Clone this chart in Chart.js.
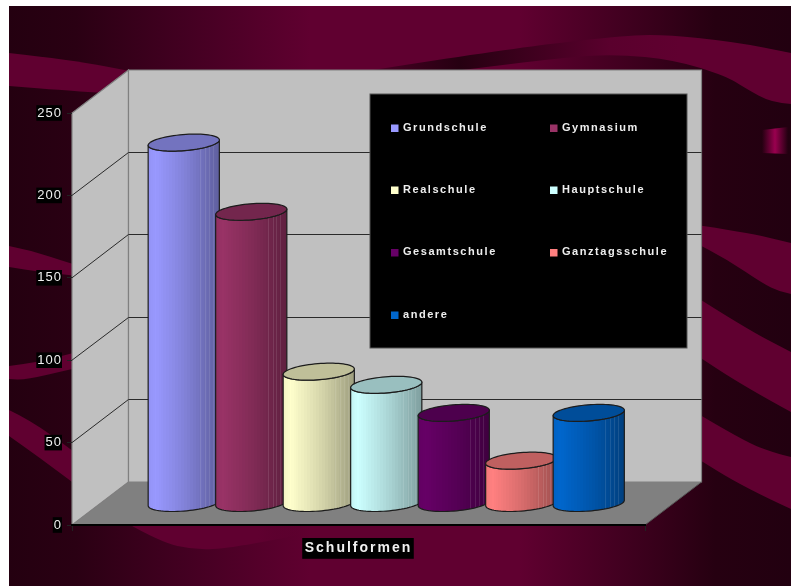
<!DOCTYPE html>
<html>
<head>
<meta charset="utf-8">
<style>html,body{margin:0;padding:0;background:#fff}canvas{display:block}</style>
<script src="https://cdn.jsdelivr.net/npm/chart.js@4/dist/chart.umd.js"></script>
</head>
<body>
<canvas id="c" width="794" height="586"></canvas>
<script>
const categories = ['Schulformen'];
const seriesNames = ['Grundschule','Gymnasium','Realschule','Hauptschule','Gesamtschule','Ganztagsschule','andere'];
const seriesValues = [219,177,80,72,55,26,55];
const seriesColors = ['#9999FF','#993366','#FFFFCC','#CCFFFF','#660066','#FF8080','#0066CC'];
const yTicks = [0,50,100,150,200,250];

const DEPTH_X = 56.5, DEPTH_Y = 43;
const BAND = '#600030';

function rgb(hex){return [1,3,5].map(i=>parseInt(hex.substr(i,2),16));}
function shade(hex,f){const c=rgb(hex).map(v=>Math.min(255,Math.round(v*f)));return `rgb(${c[0]},${c[1]},${c[2]})`;}
function profile(u){
  if(u<0.1) return 0.95+0.05*(u/0.1);
  if(u<0.55) return 1-(u-0.1)/0.45*0.17;
  return 0.83-(u-0.55)/0.45*0.21;
}

class CylinderElement extends Chart.BarElement {
  draw(){}
  paint(ctx){
    const w=this.width, a=w/2, dxv=11.3, dyv=8.5;
    const cx=this.x+DEPTH_X/2-0.5, top=this.y-DEPTH_Y/2, bot=this.base-DEPTH_Y/2;
    const t0=Math.atan2(dxv,a), half=Math.hypot(a,dxv);
    const pt=(cy,t)=>[cx+a*Math.cos(t)+dxv*Math.sin(t), cy-dyv*Math.sin(t)];
    const color=this.options.backgroundColor;
    const N=36;
    ctx.save();
    ctx.lineJoin='round';
    const side=new Path2D();
    let p=pt(top,t0+Math.PI); side.moveTo(p[0],p[1]);
    for(let i=0;i<=N;i++){p=pt(bot,t0+Math.PI+Math.PI*i/N);side.lineTo(p[0],p[1]);}
    for(let i=N;i>=0;i--){p=pt(top,t0+Math.PI+Math.PI*i/N);side.lineTo(p[0],p[1]);}
    side.closePath();
    const g=ctx.createLinearGradient(cx-half,0,cx+half,0);
    let prev=0;
    for(let i=1;i<=N;i++){
      const u=(1-Math.cos(Math.PI*i/N))/2, col=shade(color,profile((prev+u)/2));
      g.addColorStop(prev,col); g.addColorStop(u,col); prev=u;
    }
    ctx.fillStyle=g; ctx.fill(side);
    ctx.save();
    ctx.clip(side);
    ctx.lineWidth=0.8;
    ctx.strokeStyle='rgba(255,255,255,0.13)';
    [0.73,0.8,0.85,0.91].forEach(f=>{
      const lx=Math.round(cx-half+2*half*f)+.5;
      ctx.beginPath();ctx.moveTo(lx,top-10);ctx.lineTo(lx,bot+10);ctx.stroke();
    });
    ctx.restore();
    ctx.lineWidth=1.2; ctx.strokeStyle='#1c1c1c'; ctx.stroke(side);
    ctx.beginPath();
    for(let i=0;i<=2*N;i++){p=pt(top,Math.PI*i/N);i?ctx.lineTo(p[0],p[1]):ctx.moveTo(p[0],p[1]);}
    ctx.closePath();
    ctx.fillStyle=shade(color,0.75); ctx.fill(); ctx.stroke();
    ctx.restore();
  }
}
CylinderElement.id='cylinder';
CylinderElement.defaults=Chart.BarElement.defaults;
CylinderElement.defaultRoutes=Chart.BarElement.defaultRoutes;
Chart.register(CylinderElement);
Chart.defaults.datasets.bar.dataElementType='cylinder';

function curve(ctx,pts,move){
  if(move) ctx.moveTo(pts[0][0],pts[0][1]); else ctx.lineTo(pts[0][0],pts[0][1]);
  for(let i=1;i<pts.length-1;i++){
    const mx=(pts[i][0]+pts[i+1][0])/2,my=(pts[i][1]+pts[i+1][1])/2;
    ctx.quadraticCurveTo(pts[i][0],pts[i][1],mx,my);
  }
  const l=pts[pts.length-1]; ctx.lineTo(l[0],l[1]);
}
function band(ctx,upper,lower,fill){
  ctx.beginPath();
  curve(ctx,upper,true);
  curve(ctx,lower.slice().reverse(),false);
  ctx.closePath();
  ctx.fillStyle=fill||BAND; ctx.fill();
}
const backdrop={
  id:'backdrop',
  beforeLayout(chart){chart.ctx.letterSpacing='1px';},
  beforeDraw(chart){
    const ctx=chart.ctx; ctx.letterSpacing='1px';
    ctx.save();
    ctx.fillStyle='#fff'; ctx.fillRect(0,0,794,586);
    ctx.beginPath(); ctx.rect(9,6,782,580); ctx.clip();
    const lx=ctx.createLinearGradient(9,0,791,0);
    const stops=[[9,'#240010'],[75,'#2a0013'],[190,'#440022'],[310,BAND],[520,BAND],[640,'#3c001d'],[715,'#260011'],[791,'#220010']];
    stops.forEach(s=>lx.addColorStop((s[0]-9)/782,s[1]));
    ctx.fillStyle=lx; ctx.fillRect(9,6,782,580);
    band(ctx,[[9,53],[72,60],[135,72]],[[9,86],[72,91],[135,95]]);
    band(ctx,[[9,246],[30,250],[72,264],[90,268]],[[9,267],[40,272],[72,275],[90,278]]);
    band(ctx,[[9,366],[40,362],[72,353],[90,350]],[[9,379],[25,380],[72,369],[90,365]]);
    band(ctx,[[9,410],[30,420],[72,450],[90,465]],[[9,436],[40,458],[72,482],[90,495]]);
    const ug=ctx.createLinearGradient(373,0,791,0);
    [[373,'#4a0025'],[460,'#260011'],[610,'#5a002d'],[680,BAND],[791,BAND]].forEach(s=>ug.addColorStop((s[0]-373)/418,s[1]));
    band(ctx,[[373,70],[500,50],[610,37],[660,34],[736,42],[791,53]],[[462,70],[560,58],[615,54],[675,60],[726,76],[745,88],[772,103],[791,104]],ug);
    band(ctx,[[690,224],[745,232],[791,243]],[[690,240],[728,260],[762,283],[780,292],[791,294]]);
    band(ctx,[[690,293],[745,328],[791,352]],[[690,351],[745,387],[791,412]]);
    band(ctx,[[690,409],[745,442],[775,453],[791,457]],[[690,454],[745,488],[791,509]]);
    const gl=ctx.createLinearGradient(762,0,788,0);
    gl.addColorStop(0,'rgba(153,0,80,0)');gl.addColorStop(.5,'#99004f');gl.addColorStop(1,'rgba(153,0,80,0)');
    ctx.beginPath();ctx.moveTo(762,130);ctx.lineTo(788,127);ctx.lineTo(788,154);ctx.lineTo(762,153);ctx.closePath();
    ctx.fillStyle=gl;ctx.fill();
    const bg=ctx.createLinearGradient(132,0,300,0);
    bg.addColorStop(0,BAND);bg.addColorStop(.75,BAND);bg.addColorStop(1,'rgba(96,0,48,0)');
    ctx.beginPath();
    curve(ctx,[[125,522],[160,542],[195,550],[230,548],[300,535]],true);
    ctx.lineTo(300,520);ctx.closePath();
    ctx.fillStyle=bg;ctx.fill();
    ctx.restore();

    const xs=chart.scales.x, ys=chart.scales.y;
    const L=xs.left,R=xs.right,B=ys.getPixelForValue(0),T=ys.getPixelForValue(250);
    ctx.save();
    ctx.lineJoin='miter';
    ctx.beginPath();ctx.moveTo(L,B);ctx.lineTo(L+DEPTH_X,B-DEPTH_Y);ctx.lineTo(R+DEPTH_X,B-DEPTH_Y);ctx.lineTo(R,B);ctx.closePath();
    ctx.fillStyle='#808080';ctx.fill();
    ctx.beginPath();ctx.moveTo(L,B);ctx.lineTo(L,T);ctx.lineTo(L+DEPTH_X,T-DEPTH_Y);ctx.lineTo(L+DEPTH_X,B-DEPTH_Y);ctx.closePath();
    ctx.fillStyle='#c0c0c0';ctx.fill();
    ctx.lineWidth=1.2;ctx.strokeStyle='#808080';ctx.stroke();
    ctx.beginPath();ctx.rect(L+DEPTH_X,T-DEPTH_Y,R-L,B-T);
    ctx.fillStyle='#c0c0c0';ctx.fill();ctx.stroke();
    ctx.strokeStyle='#2a2a2a';ctx.lineWidth=1;
    yTicks.slice(1,-1).forEach(v=>{
      const y=ys.getPixelForValue(v), by=Math.floor(y-DEPTH_Y)+.5;
      ctx.beginPath();ctx.moveTo(L,y);ctx.lineTo(L+DEPTH_X,by);ctx.lineTo(R+DEPTH_X,by);ctx.stroke();
    });
    ctx.strokeStyle='#555';
    ctx.beginPath();ctx.moveTo(R,B);ctx.lineTo(R+DEPTH_X,B-DEPTH_Y);ctx.stroke();
    ctx.restore();
  },
  afterDatasetsDraw(chart){
    const ctx=chart.ctx;
    chart.getSortedVisibleDatasetMetas().forEach(m=>m.data.forEach(el=>el.paint(ctx)));
  },
  afterDraw(chart){
    const ctx=chart.ctx;
    ctx.save();
    ctx.fillStyle='#000';ctx.fillRect(370,94,317,254);
    ctx.strokeStyle='#555';ctx.lineWidth=1;ctx.strokeRect(370,94,317,254);
    ctx.font='bold 11px "Liberation Sans", Arial, sans-serif';
    ctx.letterSpacing='1.55px';
    ctx.textBaseline='middle';ctx.textAlign='left';
    const colsX=[391,550], rowsY=[127.5,189.5,252,314.5];
    chart.data.datasets.forEach((d,i)=>{
      const x=colsX[i%2],y=rowsY[Math.floor(i/2)];
      ctx.fillStyle=d.backgroundColor;ctx.fillRect(x,y-3,7.5,7.5);
      ctx.fillStyle='#eeeeee';ctx.fillText(d.label,x+12,y);
    });
    ctx.restore();
  }
};

const chart=new Chart(document.getElementById('c'),{
  type:'bar',
  data:{
    labels:categories,
    datasets:seriesNames.map((n,i)=>({
      label:n,
      data:[seriesValues[i]],
      backgroundColor:seriesColors[i]
    }))
  },
  options:{
    responsive:false,
    animation:false,
    devicePixelRatio:1,
    categoryPercentage:0.8246,
    barPercentage:1,
    layout:{padding:{top:113,right:149,left:0,bottom:0}},
    plugins:{legend:{display:false},title:{display:false},tooltip:{enabled:false}},
    scales:{
      x:{
        afterFit(s){
          s.height=61;
          if(!s.drawLabels.wrapped){
            const orig=Object.getPrototypeOf(s).drawLabels;
            s.drawLabels=function(area){const c=this.ctx;c.save();c.letterSpacing='2px';orig.call(this,area);c.restore();};
            s.drawLabels.wrapped=true;
          }
        },
        border:{display:true,color:'#000',width:2},
        grid:{offset:true,drawOnChartArea:false,drawTicks:true,tickLength:6,color:'#222'},
        ticks:{
          color:'#f0f0f0',
          font:{family:'"Liberation Sans", Arial, sans-serif',size:14,weight:'bold'},
          padding:9,maxRotation:0,
          showLabelBackdrop:true,backdropColor:'#000',
          backdropPadding:{left:8,right:7,top:2,bottom:2}
        }
      },
      y:{
        min:0,max:250,
        afterFit(s){s.width=72;},
        afterBuildTicks(s){s.ticks=yTicks.map(v=>({value:v}));},
        border:{display:false},
        grid:{drawOnChartArea:false,drawTicks:true,tickLength:5,color:'#222'},
        ticks:{
          color:'#f0f0f0',
          font:{family:'"Liberation Sans", Arial, sans-serif',size:13},
          padding:5,
          showLabelBackdrop:true,backdropColor:'#000',
          backdropPadding:{left:1,right:0,top:0,bottom:0}
        }
      }
    }
  },
  plugins:[backdrop]
});
</script>
</body>
</html>
